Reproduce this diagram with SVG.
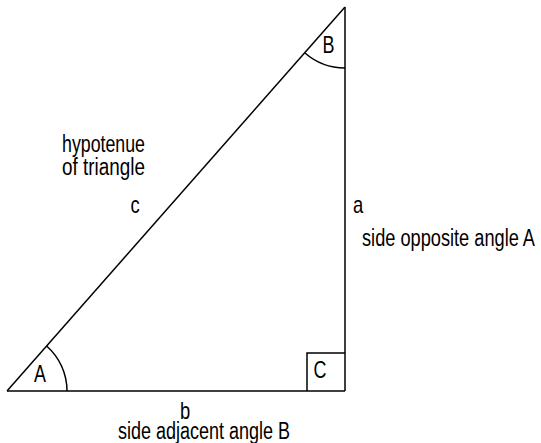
<svg xmlns="http://www.w3.org/2000/svg" width="541" height="443" viewBox="0 0 541 443">
<style>
.ln{fill:none;stroke:#000;stroke-width:1.5}
text{font-family:"Liberation Sans",Arial,sans-serif;font-size:23px;fill:#000}
.m{text-anchor:middle}
</style>
<rect width="541" height="443" fill="#fff"/>
<g id="connectors">
<path class="ln" d="M7 391 L345 7"/>
<path class="ln" d="M7 391 L345 391"/>
<path class="ln" d="M345 7 L345 391"/>
</g>
<g id="angleA">
<path class="ln" d="M67 391 A60 60 0 0 0 46.6 346"/>
<text x="40" y="382" class="m" transform="translate(40 0) scale(0.78 1) translate(-40 0)">A</text>
</g>
<g id="angleB">
<path class="ln" d="M345 68 A61 61 0 0 1 304.7 52.8"/>
<text x="328.5" y="53" class="m" transform="translate(328.5 0) scale(0.78 1) translate(-328.5 0)">B</text>
</g>
<g id="angleC">
<path class="ln" d="M307 391 L307 353 L345 353"/>
<text x="320" y="378" class="m" transform="translate(320 0) scale(0.78 1) translate(-320 0)">C</text>
</g>
<g id="hypotenuse">
<text x="62" y="152" textLength="83" lengthAdjust="spacingAndGlyphs">hypotenue</text>
<text x="62" y="175" textLength="83" lengthAdjust="spacingAndGlyphs">of triangle</text>
<text x="135" y="213" class="m" transform="translate(135 0) scale(0.8 1) translate(-135 0)">c</text>
</g>
<g id="sideA">
<text x="358" y="213" class="m" transform="translate(358 0) scale(0.8 1) translate(-358 0)">a</text>
<text x="362" y="246" textLength="173" lengthAdjust="spacingAndGlyphs">side opposite angle A</text>
</g>
<g id="sideB">
<text x="185" y="419" class="m" transform="translate(185 0) scale(0.8 1) translate(-185 0)">b</text>
<text x="118" y="439" textLength="172" lengthAdjust="spacingAndGlyphs">side adjacent angle B</text>
</g>
</svg>
